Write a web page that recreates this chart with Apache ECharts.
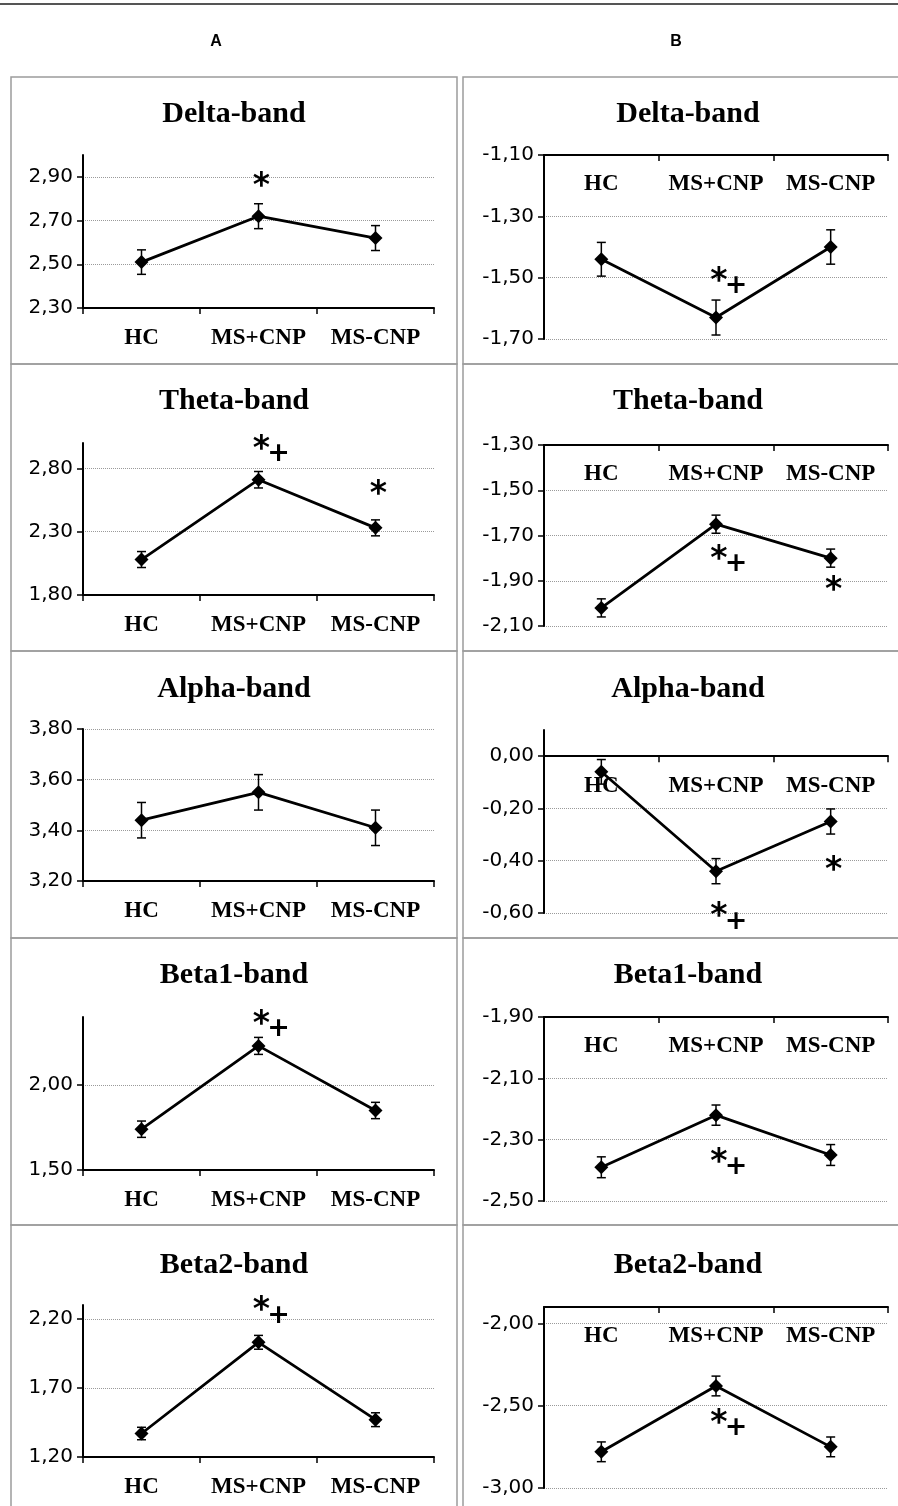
<!DOCTYPE html>
<html><head><meta charset="utf-8">
<script src="https://cdn.jsdelivr.net/npm/echarts@6/dist/echarts.min.js"></script>
<style>html,body{margin:0;padding:0;background:#fff}#c{width:898px;height:1506px}</style>
</head><body><div id="c"></div>
<script>
// ---------- data ----------
const categories = ['HC', 'MS+CNP', 'MS-CNP'];
const bands = ['Delta-band', 'Theta-band', 'Alpha-band', 'Beta1-band', 'Beta2-band'];
const columnLabels = ['A', 'B'];

// Column A (values, standard errors)
const aDelta = [2.51, 2.72, 2.62];     const aDeltaErr = [0.056, 0.057, 0.057];
const aTheta = [2.08, 2.71, 2.33];     const aThetaErr = [0.063, 0.065, 0.063];
const aAlpha = [3.44, 3.55, 3.41];     const aAlphaErr = [0.07, 0.07, 0.07];
const aBeta1 = [1.74, 2.23, 1.85];     const aBeta1Err = [0.048, 0.05, 0.048];
const aBeta2 = [1.37, 2.03, 1.47];     const aBeta2Err = [0.045, 0.05, 0.05];
// Column B
const bDelta = [-1.44, -1.63, -1.40];  const bDeltaErr = [0.055, 0.057, 0.056];
const bTheta = [-2.02, -1.65, -1.80];  const bThetaErr = [0.04, 0.04, 0.04];
const bAlpha = [-0.06, -0.44, -0.25];  const bAlphaErr = [0.047, 0.048, 0.048];
const bBeta1 = [-2.39, -2.22, -2.35];  const bBeta1Err = [0.034, 0.033, 0.034];
const bBeta2 = [-2.78, -2.38, -2.75];  const bBeta2Err = [0.06, 0.06, 0.06];

// axis ranges and tick labels
const aRanges = [[2.3, 3.0], [1.8, 3.0], [3.2, 3.8], [1.5, 2.4], [1.2, 2.3]];
const aIntervals = [0.2, 0.5, 0.2, 0.5, 0.5];
const aTicks = [[2.30, 2.50, 2.70, 2.90], [1.80, 2.30, 2.80], [3.20, 3.40, 3.60, 3.80], [1.50, 2.00], [1.20, 1.70, 2.20]];
const bRanges = [[-1.7, -1.1], [-2.1, -1.3], [-0.6, 0.1], [-2.5, -1.9], [-3.0, -1.9]];
const bIntervals = [0.2, 0.2, 0.2, 0.2, 0.5];
const bTicks = [[-1.70, -1.50, -1.30, -1.10], [-2.10, -1.90, -1.70, -1.50, -1.30], [-0.60, -0.40, -0.20, 0.00], [-2.50, -2.30, -2.10, -1.90], [-3.00, -2.50, -2.00]];

// significance marks: [category index, value, text]
const aMarks = [[[1, 2.886, '*']], [[1, 3.005, '*+'], [2, 2.65, '*']], [], [[1, 2.40, '*+']], [[1, 2.308, '*+']]];
const bMarks = [[[1, -1.488, '*+']], [[1, -1.774, '*+'], [2, -1.91, '*']], [[1, -0.588, '*+'], [2, -0.409, '*']], [[1, -2.35, '*+']], [[1, -2.563, '*+']]];

const aVals = [aDelta, aTheta, aAlpha, aBeta1, aBeta2];
const aErrs = [aDeltaErr, aThetaErr, aAlphaErr, aBeta1Err, aBeta2Err];
const bVals = [bDelta, bTheta, bAlpha, bBeta1, bBeta2];
const bErrs = [bDeltaErr, bThetaErr, bAlphaErr, bBeta1Err, bBeta2Err];

// ---------- layout ----------
const colLayout = { A: { left: 83, width: 351, titleX: 234, boxX: 11, boxW: 446, letterX: 216 },
                    B: { left: 544, width: 344, titleX: 688, boxX: 463, boxW: 440, letterX: 676 } };
const aPlot = [[155, 308], [443, 595], [729, 881], [1017, 1170], [1305, 1457]];
const bPlot = [[155, 339], [445, 626], [730, 913], [1017, 1201], [1307, 1488]];
const rowTop = 77, rowH = 287;
const titleY = [114, 401, 689, 975, 1265];

const grids = [], xAxes = [], yAxes = [], series = [], graphics = [];
const fmt = v => (Math.abs(v) < 1e-9 ? 0 : v).toFixed(2).replace('.', ',');

function addPanel(col, r, vals, errs, range, interval, ticks, marks, plot) {
  const L = colLayout[col];
  const gi = grids.length;
  const isB = col === 'B';
  const h = plot[1] - plot[0];
  grids.push({ left: L.left, width: L.width, top: plot[0], height: h, containLabel: false });
  // column B: horizontal axis crosses at 0 (or at the max when all values are negative), labels below it
  const cross = Math.min(0, range[1]);
  const xOffset = isB ? -h * (range[1] - cross) / (range[1] - range[0]) : 0;
  xAxes.push({
    gridIndex: gi, type: 'category', data: categories, boundaryGap: true,
    position: isB ? 'top' : 'bottom', offset: xOffset,
    axisLine: { onZero: false, lineStyle: { color: '#000', width: 2 } },
    axisTick: { show: true, inside: isB, length: 6, alignWithLabel: false, lineStyle: { color: '#000', width: 1.5 } },
    axisLabel: { inside: isB, margin: isB ? 18 : 19, color: '#000', fontFamily: 'Liberation Serif', fontWeight: 'bold', fontSize: 23, interval: 0 },
    splitLine: { show: false }
  });
  yAxes.push({
    gridIndex: gi, type: 'value', min: range[0], max: range[1], interval: interval,
    axisLine: { show: true, onZero: false, lineStyle: { color: '#000', width: 2 } },
    axisTick: { show: true, length: 6, customValues: ticks, lineStyle: { color: '#000', width: 1.5 } },
    axisLabel: { customValues: ticks, formatter: fmt, color: '#000',
                 fontFamily: 'DejaVu Sans', fontSize: 20, margin: 10 },
    splitLine: { show: true, showMinLine: isB, showMaxLine: true,
                 lineStyle: { color: '#9a9a9a', type: 'dotted', width: 1 } }
  });
  series.push({
    type: 'custom', xAxisIndex: gi, yAxisIndex: gi, z: 2, silent: true,
    data: vals.map((v, k) => [k, v, errs[k]]),
    encode: { x: 0, y: 1 },
    renderItem: (params, api) => {
      const x = api.value(0), y = api.value(1), e = api.value(2);
      const hi = api.coord([x, y + e]), lo = api.coord([x, y - e]);
      const w = 4.5, st = { stroke: '#000', lineWidth: 1.5 };
      return { type: 'group', children: [
        { type: 'line', shape: { x1: hi[0], y1: hi[1], x2: lo[0], y2: lo[1] }, style: st },
        { type: 'line', shape: { x1: hi[0] - w, y1: hi[1], x2: hi[0] + w, y2: hi[1] }, style: st },
        { type: 'line', shape: { x1: lo[0] - w, y1: lo[1], x2: lo[0] + w, y2: lo[1] }, style: st }
      ] };
    }
  });
  series.push({
    type: 'line', xAxisIndex: gi, yAxisIndex: gi, z: 3, data: vals, silent: true,
    symbol: 'diamond', symbolSize: 14, showAllSymbol: true,
    itemStyle: { color: '#000' }, lineStyle: { color: '#000', width: 2.75 }
  });
  const markData = [];
  marks.forEach(m => {
    markData.push({ value: [m[0], m[1]], label: { formatter: '*', fontSize: 33, fontWeight: 'bold', offset: [3, 8] } });
    if (m[2].indexOf('+') >= 0)
      markData.push({ value: [m[0], m[1]], label: { formatter: '+', fontSize: 27, fontWeight: 'bold', offset: [20, 12] } });
  });
  series.push({
    type: 'scatter', xAxisIndex: gi, yAxisIndex: gi, z: 4, clip: false, silent: true,
    symbolSize: 0, itemStyle: { color: '#000', opacity: 1 }, data: markData,
    label: { show: true, position: 'inside', color: '#000', opacity: 1, textBorderWidth: 0,
             fontFamily: 'DejaVu Sans' }
  });
  graphics.push({ type: 'text', x: L.titleX, y: titleY[r], silent: true,
    style: { text: bands[r], textAlign: 'center', textVerticalAlign: 'middle', fill: '#000',
             font: 'bold 30px "Liberation Serif"' } });
  graphics.push({ type: 'rect', silent: true, z: -1,
    shape: { x: L.boxX, y: rowTop + rowH * r, width: L.boxW, height: rowH },
    style: { fill: 'none', stroke: '#9c9c9c', lineWidth: 1.5 } });
}

for (let r = 0; r < 5; r++) {
  addPanel('A', r, aVals[r], aErrs[r], aRanges[r], aIntervals[r], aTicks[r], aMarks[r], aPlot[r]);
  addPanel('B', r, bVals[r], bErrs[r], bRanges[r], bIntervals[r], bTicks[r], bMarks[r], bPlot[r]);
}
graphics.push({ type: 'line', silent: true, shape: { x1: 0, y1: 4, x2: 898, y2: 4 }, style: { stroke: '#555', lineWidth: 2 } });
columnLabels.forEach(c => graphics.push({ type: 'text', x: colLayout[c].letterX, y: 42, silent: true,
  style: { text: c, textAlign: 'center', textVerticalAlign: 'middle', fill: '#000', font: 'bold 16px "Liberation Sans"' } }));

const chart = echarts.init(document.getElementById('c'), null, { renderer: 'canvas' });
chart.setOption({
  animation: false, backgroundColor: '#fff',
  grid: grids, xAxis: xAxes, yAxis: yAxes, series: series, graphic: graphics
});
</script></body></html>
